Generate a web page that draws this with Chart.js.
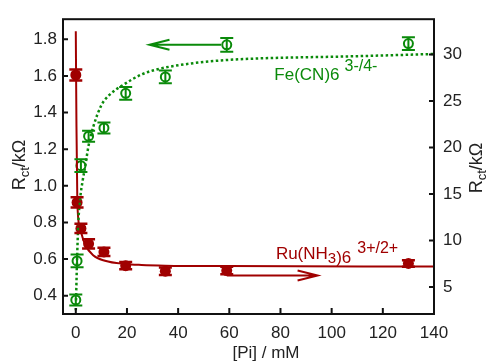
<!DOCTYPE html>
<html>
<head>
<meta charset="utf-8">
<script src="https://cdn.jsdelivr.net/npm/chart.js@4"></script>
<style>
  html, body { margin: 0; padding: 0; background: #fff; }
  #wrap { width: 491px; height: 364px; }
</style>
</head>
<body>
<div id="wrap"><canvas id="myChart" width="491" height="364"></canvas></div>
<script>
// measured points (same [Pi] for both couples)
var piConc = [0, 0.5, 2, 5, 11, 19.5, 35, 59, 130];
var feRct = [0.377, 0.59, 1.11, 1.271, 1.316, 1.505, 1.595, 1.77, 1.777];
var feErr = [0.03, 0.035, 0.035, 0.03, 0.03, 0.035, 0.035, 0.038, 0.035];
var ruRct = [27.8, 14.1, 11.3, 9.65, 8.78, 7.3, 6.7, 6.77, 7.54];
var ruErr = [0.6, 0.55, 0.5, 0.5, 0.45, 0.4, 0.4, 0.4, 0.35];

// fit curves
var feFitX = [0, 0.5, 1, 1.7, 2.7, 3.6, 5, 7, 10, 13.4, 18.4, 26, 33, 46, 59, 72, 107, 140];
var feFitY = [0.32, 0.6, 0.8, 0.93, 1.03, 1.1, 1.22, 1.33, 1.44, 1.5, 1.55, 1.61, 1.64, 1.67, 1.687, 1.696, 1.707, 1.72];
var ruFitX = [0, 0.25, 0.6, 1.6, 3.6, 6.9, 11.4, 19.2, 25.7, 35, 59, 140];
var ruFitY = [32.5, 22.7, 14.2, 11.4, 9.6, 8.4, 7.83, 7.48, 7.37, 7.3, 7.25, 7.2];

// tick labels
var xTicks = [0, 20, 40, 60, 80, 100, 120, 140];
var leftTicks = [0.4, 0.6, 0.8, 1.0, 1.2, 1.4, 1.6, 1.8];
var rightTicks = [5, 10, 15, 20, 25, 30];

var GREEN = '#0a8a0a';
var RED = '#a00000';
var FONT = '"Liberation Sans", Arial, sans-serif';

function pts(xs, ys) {
    return xs.map(function (v, i) { return { x: v, y: ys[i] }; });
}

function arrow(ctx, x1, y, x2, color) {
    var dir = x2 > x1 ? 1 : -1;
    ctx.save();
    ctx.strokeStyle = color;
    ctx.lineWidth = 2;
    ctx.beginPath();
    ctx.moveTo(x1, y);
    ctx.lineTo(x2, y);
    ctx.moveTo(x2 - dir * 20, y - 5);
    ctx.lineTo(x2, y);
    ctx.lineTo(x2 - dir * 20, y + 5);
    ctx.stroke();
    ctx.restore();
}

// draws pieces [text, size, dy, gapAfter] one after another
function richText(ctx, parts, x, y, color) {
    ctx.fillStyle = color;
    ctx.textBaseline = 'alphabetic';
    ctx.textAlign = 'left';
    parts.forEach(function (p) {
        ctx.font = p[1] + 'px ' + FONT;
        ctx.fillText(p[0], x, y + p[2]);
        x += ctx.measureText(p[0]).width + (p[3] || 0);
    });
}

function rctTitle(ctx, cx, cy) {
    var parts = [['R', 18, 0], ['ct', 13, 4], ['/k\u03A9', 18, 0]];
    var w = 0;
    parts.forEach(function (p) { ctx.font = p[1] + 'px ' + FONT; w += ctx.measureText(p[0]).width; });
    ctx.save();
    ctx.translate(cx, cy);
    ctx.rotate(-Math.PI / 2);
    richText(ctx, parts, -w / 2, 0, '#222');
    ctx.restore();
}

var overlay = {
    id: 'overlay',
    afterDatasetsDraw: function (chart) {
        var ctx = chart.ctx;
        var sx = chart.scales.x;
        var bars = function (vals, errs, scale, color, lw) {
            ctx.save();
            ctx.strokeStyle = color;
            ctx.lineWidth = lw;
            vals.forEach(function (v, i) {
                var px = sx.getPixelForValue(piConc[i]);
                var top = scale.getPixelForValue(v + errs[i]);
                var bot = scale.getPixelForValue(v - errs[i]);
                ctx.beginPath();
                ctx.moveTo(px, top); ctx.lineTo(px, bot);
                ctx.moveTo(px - 6.5, top); ctx.lineTo(px + 6.5, top);
                ctx.moveTo(px - 6.5, bot); ctx.lineTo(px + 6.5, bot);
                ctx.stroke();
            });
            ctx.restore();
        };
        bars(feRct, feErr, chart.scales.y, GREEN, 2);
        bars(ruRct, ruErr, chart.scales.y2, RED, 2.5);
    },
    afterDraw: function (chart) {
        var ctx = chart.ctx;
        var a = chart.chartArea;
        var sx = chart.scales.x, sy = chart.scales.y, sy2 = chart.scales.y2;

        // frame and inward ticks
        ctx.save();
        ctx.strokeStyle = '#111';
        ctx.lineWidth = 2;
        ctx.strokeRect(a.left, a.top, a.right - a.left, a.bottom - a.top);
        ctx.beginPath();
        sx.ticks.forEach(function (t) {
            var p = sx.getPixelForValue(t.value);
            ctx.moveTo(p, a.bottom); ctx.lineTo(p, a.bottom - 6);
        });
        sy.ticks.forEach(function (t) {
            var p = sy.getPixelForValue(t.value);
            ctx.moveTo(a.left, p); ctx.lineTo(a.left + 5, p);
        });
        sy2.ticks.forEach(function (t) {
            var p = sy2.getPixelForValue(t.value);
            ctx.moveTo(a.right, p); ctx.lineTo(a.right - 5, p);
        });
        ctx.stroke();
        ctx.restore();

        // arrows pointing to the axis of each couple
        arrow(ctx, sx.getPixelForValue(56.8), sy.getPixelForValue(1.77), sx.getPixelForValue(28.8), GREEN);
        arrow(ctx, sx.getPixelForValue(59), sy2.getPixelForValue(6.24), sx.getPixelForValue(94.5), RED);

        // couple labels
        ctx.save();
        richText(ctx, [['Fe(CN)6', 17, 0, 5], ['3-/4-', 16, -9]],
            sx.getPixelForValue(77.6), sy.getPixelForValue(1.576), GREEN);
        richText(ctx, [['Ru(NH', 17, 0], ['3', 15, 3.5], [')6', 17, 4, 6], ['3+/2+', 16, -6.5]],
            sx.getPixelForValue(78.2), sy2.getPixelForValue(8.0), RED);
        ctx.restore();

        // axis titles
        ctx.save();
        ctx.fillStyle = '#222';
        ctx.font = '17px ' + FONT;
        ctx.textAlign = 'center';
        ctx.textBaseline = 'alphabetic';
        ctx.fillText('[Pi] / mM', 266, 358);
        ctx.restore();
        rctTitle(ctx, 25, 165);
        rctTitle(ctx, 482, 168);
    }
};

var ctx = document.getElementById('myChart').getContext('2d');
var chart = new Chart(ctx, {
    type: 'scatter',
    data: {
        datasets: [
            {
                data: pts(feFitX, feFitY),
                yAxisID: 'y',
                showLine: true,
                borderColor: GREEN,
                borderWidth: 2.5,
                borderDash: [2.5, 2.5],
                cubicInterpolationMode: 'monotone',
                pointRadius: 0
            },
            {
                data: pts(ruFitX, ruFitY),
                yAxisID: 'y2',
                showLine: true,
                borderColor: RED,
                borderWidth: 2,
                cubicInterpolationMode: 'monotone',
                pointRadius: 0
            },
            {
                data: pts(piConc, feRct),
                yAxisID: 'y',
                pointRadius: 4.5,
                pointBorderWidth: 2,
                pointBorderColor: GREEN,
                pointBackgroundColor: 'rgba(255,255,255,0)'
            },
            {
                data: pts(piConc, ruRct),
                yAxisID: 'y2',
                pointRadius: 5.5,
                pointBorderWidth: 0,
                pointBackgroundColor: RED
            }
        ]
    },
    options: {
        responsive: false,
        animation: false,
        layout: { padding: { top: 15 } },
        plugins: { legend: { display: false }, tooltip: { enabled: false } },
        scales: {
            x: {
                type: 'linear', min: -5, max: 140,
                afterBuildTicks: function (s) { s.ticks = xTicks.map(function (v) { return { value: v }; }); },
                afterFit: function (s) { s.height = 50; },
                grid: { display: false, drawTicks: false },
                border: { display: false },
                ticks: { padding: 9, color: '#222', font: { family: FONT, size: 17 } }
            },
            y: {
                type: 'linear', position: 'left', min: 0.3, max: 1.91,
                afterBuildTicks: function (s) { s.ticks = leftTicks.map(function (v) { return { value: v }; }); },
                afterFit: function (s) { s.width = 63; },
                grid: { display: false, drawTicks: false },
                border: { display: false },
                ticks: { padding: 6, color: '#222', font: { family: FONT, size: 17 },
                    callback: function (v) { return v.toFixed(1); } }
            },
            y2: {
                type: 'linear', position: 'right', min: 2.1, max: 33.8,
                afterBuildTicks: function (s) { s.ticks = rightTicks.map(function (v) { return { value: v }; }); },
                afterFit: function (s) { s.width = 57; },
                grid: { display: false, drawTicks: false },
                border: { display: false },
                ticks: { padding: 9, color: '#222', font: { family: FONT, size: 17 } }
            }
        }
    },
    plugins: [overlay]
});
</script>
</body>
</html>
